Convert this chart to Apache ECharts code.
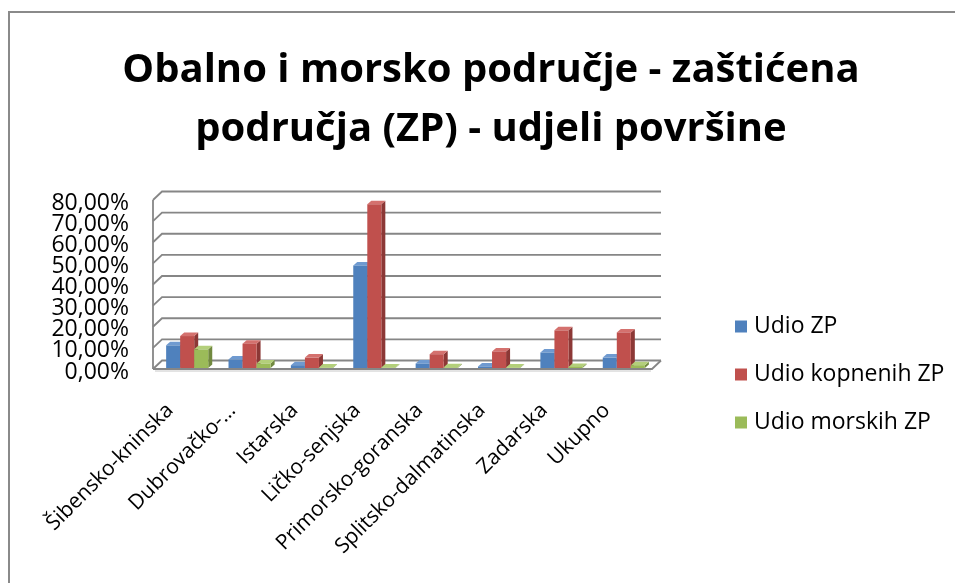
<!DOCTYPE html>
<html>
<head>
<meta charset="utf-8">
<script src="https://cdn.jsdelivr.net/npm/echarts@6/dist/echarts.min.js"></script>
<style>html,body{margin:0;padding:0;background:#fff}#c{width:955px;height:583px}</style>
</head>
<body>
<div id="c"></div>
<script>
const categories = ['Šibensko-kninska', 'Dubrovačko-…', 'Istarska', 'Ličko-senjska', 'Primorsko-goranska', 'Splitsko-dalmatinska', 'Zadarska', 'Ukupno'];
const udioZP = [11.2, 4.5, 1.8, 49.0, 2.6, 1.2, 7.8, 5.4];
const udioKopnenihZP = [15.6, 12.0, 5.4, 78.0, 7.0, 8.3, 18.3, 17.3];
const udioMorskihZP = [9.3, 2.6, 0.5, 0.2, 0.8, 0.4, 1.0, 1.8];
const yTicks = [0, 10, 20, 30, 40, 50, 60, 70, 80];
const yTickLabels = ['0,00%', '10,00%', '20,00%', '30,00%', '40,00%', '50,00%', '60,00%', '70,00%', '80,00%'];
const seriesNames = ['Udio ZP', 'Udio kopnenih ZP', 'Udio morskih ZP'];

const FONT = 'Open Sans';
const palette = [
  {front: '#4F81BD', top: '#6f9ad0', side: '#385D8A'},
  {front: '#C0504D', top: '#d4716e', side: '#8C3836'},
  {front: '#9BBB59', top: '#b3cf7a', side: '#71893F'}
];

function bar3D(si) {
  const c = palette[si];
  return function (params, api) {
    const idx = api.value(0), v = api.value(1);
    const base = api.coord([idx, 0]);
    const top = api.coord([idx, v]);
    const band = api.size([1, 0])[0];
    const w = band * 0.225;
    const x = base[0] - 1.5 * w + si * w + 3;
    const yb = base[1] - 1;
    const yt = Math.min(top[1], yb - 0.5);
    const ddx = 4, ddy = -3.5;
    return {
      type: 'group',
      children: [
        {type: 'polygon', shape: {points: [[x + w, yt], [x + w + ddx, yt + ddy], [x + w + ddx, yb + ddy], [x + w, yb]]}, style: {fill: c.side}},
        {type: 'polygon', shape: {points: [[x, yt], [x + w, yt], [x + w + ddx, yt + ddy], [x + ddx, yt + ddy]]}, style: {fill: c.top}},
        {type: 'rect', shape: {x: x, y: yt, width: w, height: yb - yt}, style: {fill: c.front}}
      ]
    };
  };
}

function wall(params, api) {
  const v = api.value(1);
  const cs = params.coordSys;
  const x0 = cs.x, x1 = cs.x + cs.width;
  const y = api.coord([0, v])[1];
  const dx = 9, dy = -8.5;
  const st = {stroke: '#868686', lineWidth: 1.8, fill: null};
  const children = [
    {type: 'polyline', shape: {points: [[x0, y], [x0 + dx, y + dy], [x1 + dx, y + dy]]}, style: st},
    {type: 'text', x: x0 - 24, y: y + 3, style: {text: yTickLabels[params.dataIndex], fill: '#000',
      font: '23px "' + FONT + '"', align: 'right', verticalAlign: 'middle'}}
  ];
  if (v === 0) {
    const yTop = api.coord([0, yTicks[yTicks.length - 1]])[1];
    children.push({type: 'polyline', shape: {points: [[x0, y], [x1, y], [x1 + dx, y + dy]]}, style: st});
    children.push({type: 'line', shape: {x1: x0, y1: y, x2: x0, y2: yTop}, style: st});
    children.push({type: 'line', shape: {x1: x0 + 2, y1: y + 2, x2: x1 - 1, y2: y + 2}, style: {stroke: '#c8c8c8', lineWidth: 1}});
  }
  return {type: 'group', children: children};
}

const chart = echarts.init(document.getElementById('c'), null, {renderer: 'canvas'});
const seriesData = [udioZP, udioKopnenihZP, udioMorskihZP];

chart.setOption({
  animation: false,
  backgroundColor: '#ffffff',
  title: {
    text: 'Obalno i morsko područje - zaštićena\npodručja (ZP) - udjeli površine',
    left: 486, top: 36, textAlign: 'center',
    textStyle: {fontFamily: FONT, fontWeight: 'bold', fontSize: 40, lineHeight: 59, color: '#000'}
  },
  legend: {
    orient: 'vertical', left: 730, top: 310, itemGap: 25,
    itemWidth: 12, itemHeight: 12, icon: 'rect',
    data: seriesNames,
    textStyle: {fontFamily: FONT, fontSize: 23, color: '#000', padding: [0, 0, 0, 2]}
  },
  grid: {left: 153, right: 303, top: 200, bottom: 214, containLabel: false},
  xAxis: {
    type: 'category', data: categories,
    axisLine: {show: false}, axisTick: {show: false},
    axisLabel: {interval: 0, rotate: 45, margin: 24, fontFamily: FONT, fontSize: 21, color: '#000', padding: [0, 20, 0, 0]},
    splitLine: {show: false}
  },
  yAxis: {
    type: 'value', min: 0, max: 80, interval: 10,
    axisLine: {show: false}, axisTick: {show: false}, splitLine: {show: false},
    axisLabel: {show: false}
  },
  graphic: [{
    type: 'polyline', silent: true,
    shape: {points: [[9, 583], [9, 12], [955, 12]]},
    style: {stroke: '#8a8a8a', lineWidth: 2, fill: null}
  }],
  series: [
    {type: 'custom', name: '_wall', silent: true, z: 1, renderItem: wall,
      data: yTicks.map(v => [0, v])},
    ...seriesNames.map((n, i) => ({
      type: 'custom', name: n, z: 2 + i, renderItem: bar3D(i),
      itemStyle: {color: palette[i].front},
      data: seriesData[i].map((v, k) => [k, v])
    }))
  ]
});
</script>
</body>
</html>
